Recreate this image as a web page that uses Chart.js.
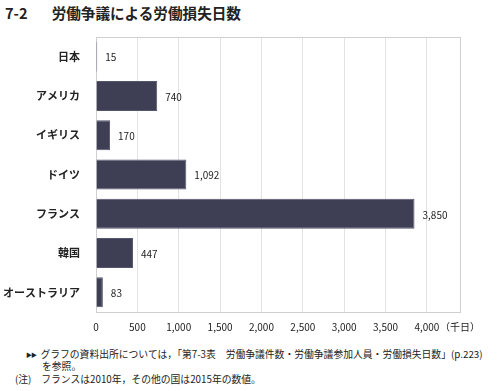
<!DOCTYPE html>
<html><head><meta charset="utf-8">
<script src="https://cdn.jsdelivr.net/npm/chart.js@4/dist/chart.umd.min.js"></script>
<style>
html,body{margin:0;padding:0;background:#fff;width:500px;height:391px;overflow:hidden;}
#wrap{position:absolute;left:0;top:0;width:500px;height:340px;}
.t{position:absolute;font-family:"Noto Sans CJK JP",sans-serif;color:#222;white-space:nowrap;}
</style></head><body>
<div class="t" style="left:5px;top:2px;font-size:14.6px;font-weight:bold;">7-2<span style="display:inline-block;width:24px"></span>労働争議による労働損失日数</div>
<div id="wrap"><canvas id="c" width="500" height="340"></canvas></div>
<div class="t" style="left:26px;top:347px;font-size:9.8px;"><span style="font-size:6px;vertical-align:1px;letter-spacing:-1px">▶▶</span>&nbsp; グラフの資料出所については，「第7-3表　労働争議件数・労働争議参加人員・労働損失日数」(p.223)</div>
<div class="t" style="left:42px;top:359px;font-size:9.8px;">を参照。</div>
<div class="t" style="left:15px;top:372px;font-size:9.8px;">(注)　フランスは2010年，その他の国は2015年の数値。</div>
<script>
const categories = ["日本","アメリカ","イギリス","ドイツ","フランス","韓国","オーストラリア"];
const lostDays = [15, 740, 170, 1092, 3850, 447, 83];
const unitLabel = "（千日）";

const borderPlugin = {
  id: 'borderBox',
  beforeDatasetsDraw(chart){
    const a = chart.chartArea, ctx = chart.ctx;
    ctx.save(); ctx.strokeStyle = '#d0d0d0'; ctx.lineWidth = 1;
    ctx.strokeRect(Math.round(a.left)+0.5, Math.round(a.top)+0.5, Math.round(a.right-a.left), Math.round(a.bottom-a.top));
    ctx.restore();
  }
};
const labelPlugin = {
  id: 'valueLabels',
  afterDatasetsDraw(chart){
    const ctx = chart.ctx, meta = chart.getDatasetMeta(0);
    ctx.save();
    ctx.font = '10px "Noto Sans CJK JP", sans-serif';
    ctx.fillStyle = '#222'; ctx.textBaseline = 'middle'; ctx.textAlign = 'left';
    meta.data.forEach((el, i) => {
      ctx.fillText(lostDays[i].toLocaleString('en-US'), el.x + 8, el.y + 1);
    });
    ctx.restore();
  }
};

new Chart(document.getElementById('c'), {
  type: 'bar',
  data: { labels: categories, datasets: [{ data: lostDays, backgroundColor: '#3e3f55', borderColor: '#55566b', borderWidth: 1, barPercentage: 0.78, categoryPercentage: 0.98 }] },
  options: {
    indexAxis: 'y', responsive: false, animation: false,
    layout: { padding: { left: 0, right: 40, top: 37, bottom: 0 } },
    plugins: { legend: { display: false }, tooltip: { enabled: false } },
    scales: {
      x: {
        min: 0, max: 4400,
        afterBuildTicks(scale){ scale.ticks = []; for (let v = 0; v <= 4000; v += 500) scale.ticks.push({value: v}); scale.ticks.push({value: 4400}); },
        afterFit(scale){ scale.height = 28; },
        grid: { color: '#e3e3e3', drawTicks: false },
        border: { display: false },
        ticks: { padding: 9, maxRotation: 0, autoSkip: false, color: '#222', font: { family: '"Noto Sans CJK JP", sans-serif', size: 10 },
          callback(v){ return v === 4400 ? unitLabel : v.toLocaleString('en-US'); } }
      },
      y: {
        afterFit(scale){ scale.width = 96; },
        grid: { display: false },
        border: { display: false },
        ticks: { padding: 8, color: '#222', font: { family: '"Noto Sans CJK JP", sans-serif', size: 11, weight: 'bold' } }
      }
    }
  },
  plugins: [borderPlugin, labelPlugin]
});
</script>
</body></html>
